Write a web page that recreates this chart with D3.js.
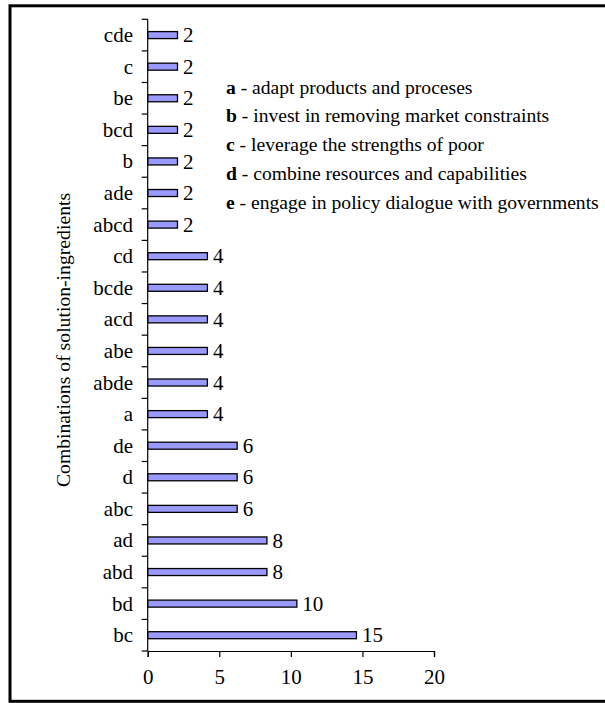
<!DOCTYPE html>
<html>
<head>
<meta charset="utf-8">
<script src="https://cdn.jsdelivr.net/npm/d3@7"></script>
<style>
  html, body { margin: 0; padding: 0; background: #fff; }
  svg { display: block; }
</style>
</head>
<body>
<svg id="chart" width="605" height="703"></svg>
<script>
// Categories listed bottom to top
const categories = ["bc","bd","abd","ad","abc","d","de","a","abde","abe","acd","bcde","cd","abcd","ade","b","bcd","be","c","cde"];
// Bar lengths (percent of cases)
const values = [14.58,10.42,8.33,8.33,6.25,6.25,6.25,4.17,4.17,4.17,4.17,4.17,4.17,2.08,2.08,2.08,2.08,2.08,2.08,2.08];
// Labels shown at bar ends
const valueLabels = ["15","10","8","8","6","6","6","4","4","4","4","4","4","2","2","2","2","2","2","2"];
const xTicks = [0,5,10,15,20];
const legendKeys = ["a","b","c","d","e"];
const legendTexts = [
  "adapt products and proceses",
  "invest in removing market constraints",
  "leverage the strengths of poor",
  "combine resources and capabilities",
  "engage in policy dialogue with governments"
];
const yTitle = "Combinations of solution-ingredients";

const FONT = "Liberation Serif";
const svg = d3.select("#chart").attr("font-family", FONT);

// outer frame
svg.append("rect")
  .attr("x", 10).attr("y", 5.8).attr("width", 620).attr("height", 695.5)
  .attr("fill", "none").attr("stroke", "#000").attr("stroke-width", 3);

const x = d3.scaleLinear().domain([0, 20]).range([147.7, 434]);
const y = d3.scaleBand().domain(categories.slice().reverse()).range([19.3, 651]).paddingInner(0).paddingOuter(0);

const data = categories.map((c, i) => ({ c, v: values[i], lab: valueLabels[i] }));
const barH = 7;

// bars
svg.append("g").selectAll("rect").data(data).join("rect")
  .attr("x", x(0))
  .attr("y", d => y(d.c) + y.bandwidth() / 2 - barH / 2)
  .attr("width", d => x(d.v) - x(0))
  .attr("height", barH)
  .attr("fill", "#9999ff")
  .attr("stroke", "#000")
  .attr("stroke-width", 1.3);

// value labels
svg.append("g").selectAll("text").data(data).join("text")
  .attr("x", d => x(d.v) + 5.5)
  .attr("y", d => y(d.c) + y.bandwidth() / 2 + 7.2)
  .attr("font-family", FONT)
  .attr("font-size", 21)
  .attr("fill", "#000")
  .text(d => d.lab);

// y axis line + ticks at band boundaries
const yAxisG = svg.append("g");
yAxisG.append("line")
  .attr("x1", x(0)).attr("x2", x(0))
  .attr("y1", y.range()[0]).attr("y2", y.range()[1])
  .attr("stroke", "#000").attr("stroke-width", 1.2);
const bounds = y.domain().map(c => y(c)).concat([y.range()[1]]);
yAxisG.selectAll("line.tk").data(bounds).join("line")
  .attr("class", "tk")
  .attr("x1", x(0) - 6).attr("x2", x(0))
  .attr("y1", d => d).attr("y2", d => d)
  .attr("stroke", "#000").attr("stroke-width", 1.2);
// category labels
yAxisG.selectAll("text").data(y.domain()).join("text")
  .attr("x", 133)
  .attr("y", d => y(d) + y.bandwidth() / 2 + 7)
  .attr("text-anchor", "end")
  .attr("font-family", FONT)
  .attr("font-size", 21)
  .attr("fill", "#000")
  .text(d => d);

// x axis
const xAxis = d3.axisBottom(x).tickValues(xTicks).tickSize(6).tickPadding(10).tickFormat(d3.format("d"));
const xg = svg.append("g").attr("transform", `translate(0,${y.range()[1]})`).call(xAxis);
xg.attr("font-family", FONT);
xg.select(".domain").attr("stroke", "#000").attr("stroke-width", 1.2);
xg.selectAll(".tick line").attr("stroke", "#000").attr("stroke-width", 1.2);
xg.selectAll(".tick text")
  .attr("font-size", 21).attr("fill", "#000").attr("dy", "0.71em").attr("y", 18);

// y title
svg.append("text")
  .attr("transform", "translate(70,340) rotate(-90)")
  .attr("text-anchor", "middle")
  .attr("font-family", FONT)
  .attr("font-size", 19.7)
  .attr("fill", "#000")
  .text(yTitle);

// legend
const lg = svg.append("g");
legendKeys.forEach((k, i) => {
  const t = lg.append("text").attr("x", 226).attr("y", 93.5 + i * 28.8)
    .attr("font-family", FONT).attr("font-size", 19.6).attr("fill", "#000");
  t.append("tspan").attr("font-weight", "bold").text(k);
  t.append("tspan").text(" - " + legendTexts[i]);
});
</script>
</body>
</html>
